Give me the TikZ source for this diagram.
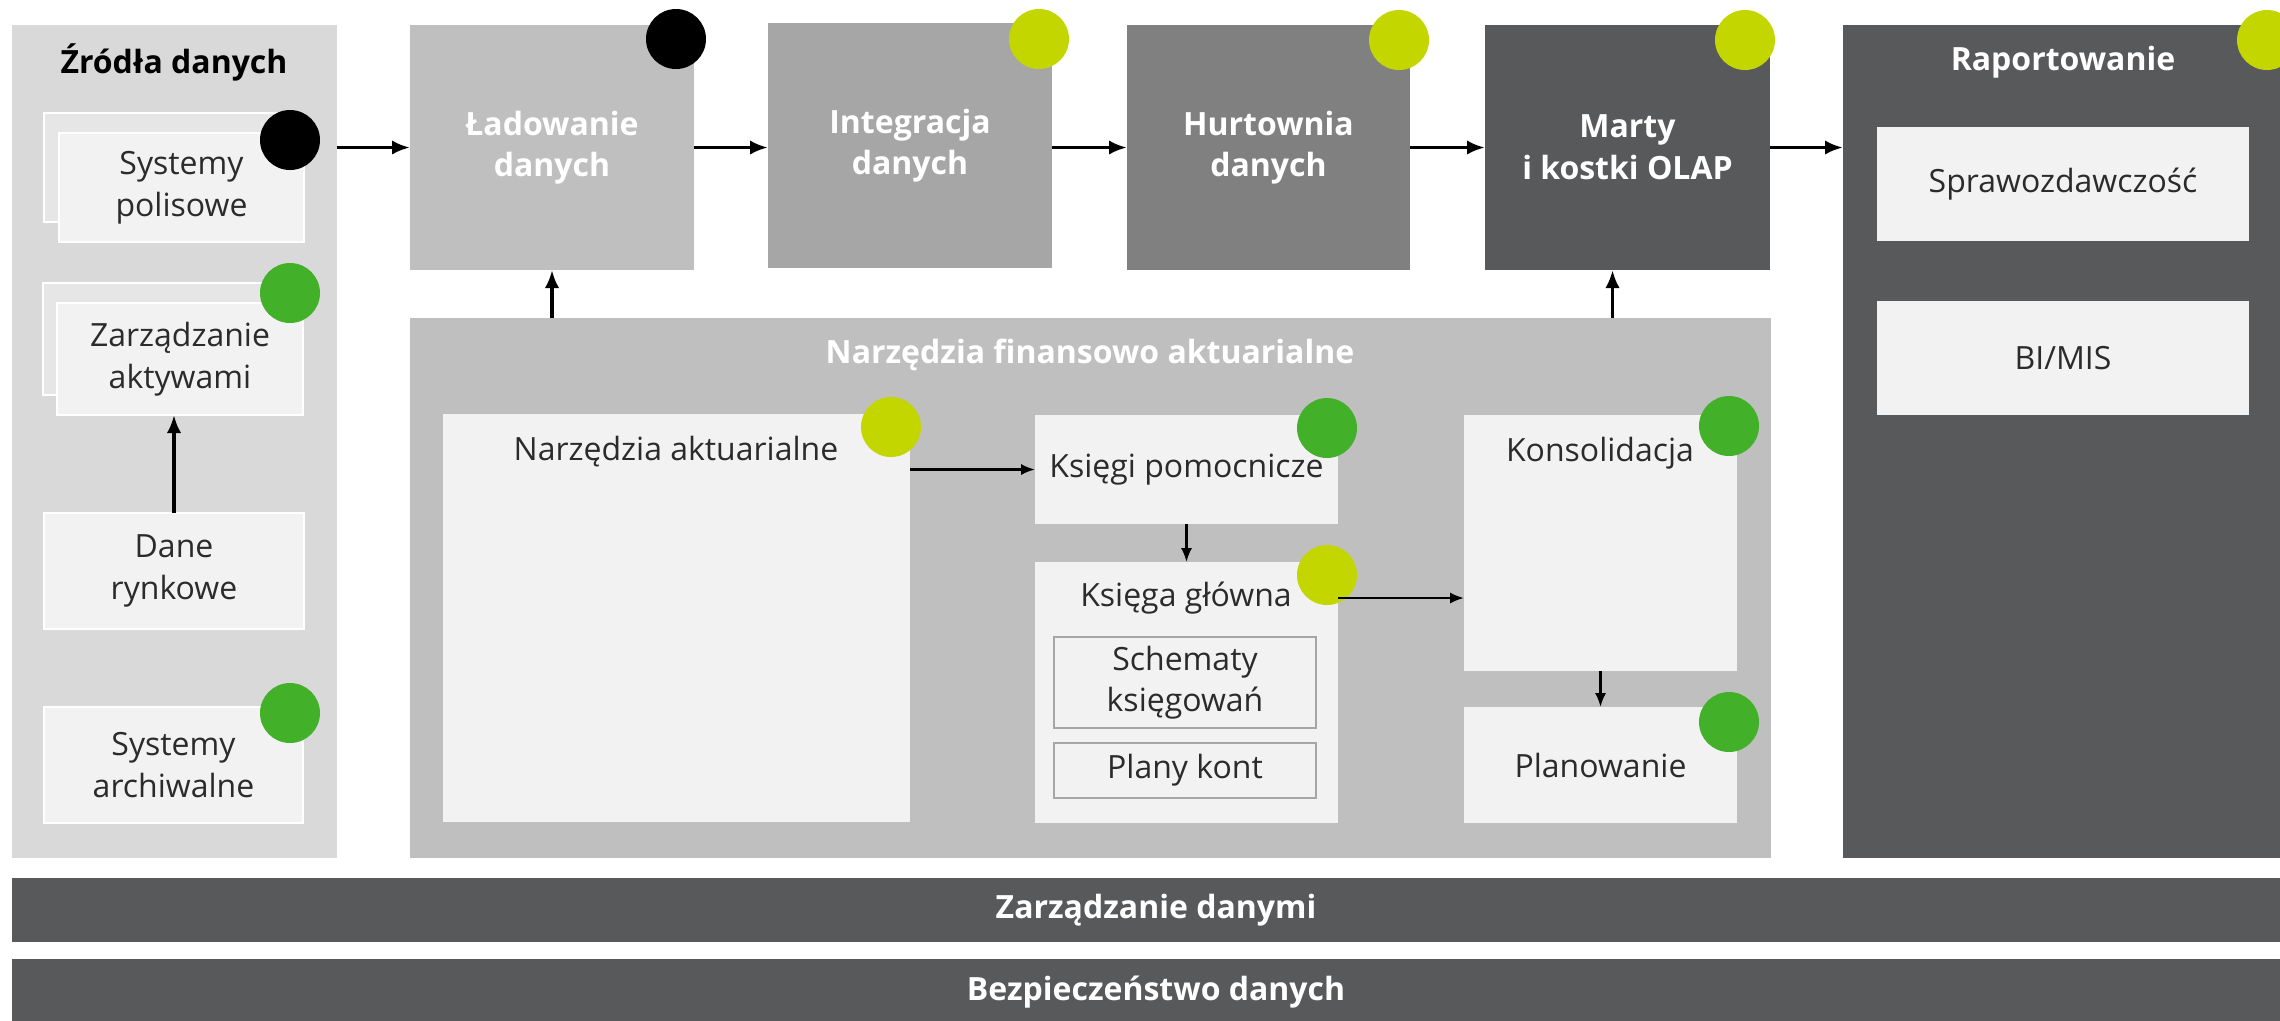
\documentclass[tikz,border=0pt]{standalone}
\usepackage{fontspec}
\setmainfont{Open Sans}
\usepackage{tikz}
\usetikzlibrary{positioning}
\usetikzlibrary{arrows.meta}

\definecolor{panelgrey}{HTML}{D9D9D9}
\definecolor{stagegrey}{HTML}{BFBFBF}
\definecolor{midgrey}{HTML}{A6A6A6}
\definecolor{deepgrey}{HTML}{808080}
\definecolor{darkgrey}{HTML}{58595B}
\definecolor{cardgrey}{HTML}{F2F2F2}
\definecolor{backgrey}{HTML}{E6E6E6}
\definecolor{textgrey}{HTML}{2B2B2B}
\definecolor{lime}{HTML}{C4D600}
\definecolor{leaf}{HTML}{43B02A}

\tikzset{
  sz/.style 2 args={minimum width=#1*0.25pt, minimum height=#2*0.25pt},
  area/.style={inner sep=0pt, outer sep=0pt, fill=#1},
  card/.style={area=cardgrey, draw=white, line width=0.5pt, align=center,
    text=textgrey, font=\fontsize{8}{10.4}\selectfont},
  backcard/.style={area=backgrey, draw=white, line width=0.5pt},
  subcard/.style={area=cardgrey, draw=midgrey, line width=0.4pt, align=center,
    text=textgrey, font=\fontsize{8}{10.4}\selectfont},
  stage/.style={area=#1, align=center, text=white,
    font=\bfseries\fontsize{8}{10.4}\selectfont},
  title/.style={font=\bfseries\fontsize{8}{10.4}\selectfont, inner sep=0pt},
  label/.style={font=\fontsize{8}{10.4}\selectfont, text=textgrey, inner sep=0pt},
  dot/.style={circle, fill=#1, minimum size=15pt, inner sep=0pt},
  arr/.style={-{Latex[length=4.5pt,width=3.6pt]}, line width=0.9pt},
  sarr/.style={-{Latex[length=3.5pt,width=2.8pt]}, line width=0.6pt},
}

\begin{document}
\begin{tikzpicture}[x=0.25pt,y=-0.25pt]
\useasboundingbox[fill=white] (0,0) rectangle (2280,1020);

% panels
\node[area=panelgrey, sz={325}{833}] (zrodla) at (174.5,441.5) {};
\node[area=stagegrey, sz={1361}{540}] (narz) at (1090.5,588) {};
\node[area=darkgrey, sz={457}{833}] (rap) at (2071.5,441.5) {};

\node[title] (zrodlat) at (174,62) {Źródła danych};
\node[title, text=white] (narzt) at (1090,355) {Narzędzia finansowo aktuarialne};
\node[title, text=white] (rapt) at (2063,62) {Raportowanie};

% data sources
\node[backcard, sz={245}{109}] (spback) at (166.5,167.5) {};
\node[card, sz={245}{109}] (sp) at (181.5,187.5) {Systemy\\polisowe};
\node[backcard, sz={246}{112}] (zaback) at (166,339) {};
\node[card, sz={246}{112}] (za) at (180,359) {Zarządzanie\\aktywami};
\node[card, sz={260}{116}] (dr) at (174,571) {Dane\\rynkowe};
\node[card, sz={259}{116}] (sa) at (173.5,765) {Systemy\\archiwalne};

% pipeline
\node[stage=stagegrey, sz={284}{245}] (lad) at (552,147.5) {Ładowanie\\danych};
\node[stage=midgrey, sz={284}{245}] (integ) at (910,145.5) {Integracja\\danych};
\node[stage=deepgrey, sz={283}{245}] (hurt) at (1268.5,147.5) {Hurtownia\\danych};
\node[stage=darkgrey, sz={285}{245}] (marty) at (1627.5,147.5) {Marty\\i kostki OLAP};

% reporting
\node[card, draw=none, sz={372}{114}] (spraw) at (2063,184) {Sprawozdawczość};
\node[card, draw=none, sz={372}{114}] (bimis) at (2063,358) {BI/MIS};

% finance and actuarial tools
\node[card, draw=none, sz={467}{408}] (na) at (676.5,618) {};
\node[label] (nat) at (676,452) {Narzędzia aktuarialne};
\node[card, draw=none, sz={303}{109}] (kp) at (1186.5,469.5) {Księgi pomocnicze};
\node[card, draw=none, sz={303}{261}] (kg) at (1186.5,692.5) {};
\node[label] (kgt) at (1186,598) {Księga główna};
\node[subcard, sz={262}{91}] (sk) at (1185,682.5) {Schematy\\księgowań};
\node[subcard, sz={262}{55}] (pk) at (1185,770.5) {Plany kont};
\node[card, draw=none, sz={273}{256}] (kons) at (1600.5,543) {};
\node[label] (konst) at (1600,453) {Konsolidacja};
\node[card, draw=none, sz={273}{116}] (plan) at (1600.5,765) {Planowanie};

% bars
\node[stage=darkgrey, sz={2288}{64}] (zd) at (1156,910) {Zarządzanie danymi};
\node[stage=darkgrey, sz={2288}{66}] (bd) at (1156,992) {Bezpieczeństwo danych};

% status dots
\foreach \p/\c/\n in {(290,140)/black/dsp, (290,293)/leaf/dza, (290,713)/leaf/dsa,
    (676,39)/black/dlad, (1039,39)/lime/dinteg, (1399,40)/lime/dhurt,
    (1745,40)/lime/dmarty, (2267,40)/lime/drap, (891,427)/lime/dna,
    (1327,428)/leaf/dkp, (1327,575)/lime/dkg, (1729,426)/leaf/dkons,
    (1729,722)/leaf/dplan}
  \node[dot=\c] (\n) at \p {};

% flows
\draw[arr] (zrodla.east |- lad.west) -- (lad.west);
\draw[arr] (lad.east) -- (integ.west |- lad.east);
\draw[arr] (integ.east |- lad.east) -- (hurt.west |- lad.east);
\draw[arr] (hurt.east) -- (marty.west |- hurt.east);
\draw[arr] (marty.east) -- (rap.west |- marty.east);
\draw[arr] (narz.north -| lad.south) -- (lad.south);
\draw[arr] ([xshift=-3.75pt]narz.north -| marty.south) -- ([xshift=-3.75pt]marty.south);
\draw[arr] (dr.north) -- (dr.north |- za.south);
\draw[sarr] (na.east |- kp.west) -- (kp.west);
\draw[sarr] (kp.south) -- (kg.north);
\draw[sarr] (kg.east |- kgt) -- (kons.west |- kgt);
\draw[sarr] (kons.south) -- (plan.north);
\end{tikzpicture}
\end{document}
